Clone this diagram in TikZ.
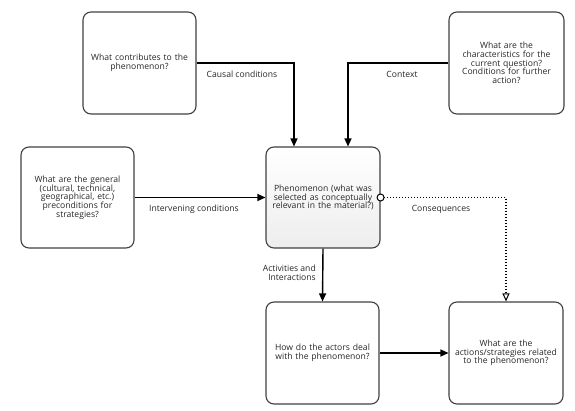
\documentclass[tikz,border=0pt]{standalone}
\usepackage{fontspec}
\setmainfont{Open Sans}
\usetikzlibrary{arrows.meta}
\begin{document}
\begin{tikzpicture}[x=1pt,y=-1pt,
  box/.style={draw=black!75, line width=1.1pt, rounded corners=8pt, align=center,
    text width=104pt, font=\fontsize{8.6}{8.7}\selectfont, text=black!85, inner sep=0pt},
  lbl/.style={font=\fontsize{8.6}{8.9}\selectfont, text=black!85, inner sep=0pt},
  conn/.style={line width=1.4pt, -{Triangle[length=8pt,width=7pt]}},
]
\useasboundingbox (0,0) rectangle (575,411);
\node[box, minimum width=113pt, minimum height=102pt] (b1) at (139.5,63) {What contributes to the\\phenomenon?};
\node[box, minimum width=115pt, minimum height=102pt] (b2) at (506.5,63) {What are the\\characteristics for the\\current question?\\Conditions for further\\action?};
\node[box, minimum width=113pt, minimum height=101pt] (b3) at (77.5,197.5) {What are the general\\(cultural, technical,\\geographical, etc.)\\preconditions for\\strategies?};
\node[box, minimum width=114pt, minimum height=101pt, top color=white, bottom color=black!7] (c) at (323,197.5) {Phenomenon (what was\\selected as conceptually\\relevant in the material?)};
\node[box, minimum width=113pt, minimum height=102pt] (bl) at (322.5,353) {How do the actors deal\\with the phenomenon?};
\node[box, minimum width=114pt, minimum height=102pt] (br) at (506,353) {What are the\\actions/strategies related\\to the phenomenon?};

\draw[conn] (b1.east) -| ([xshift=-29pt]c.north);
\draw[conn] (b2.west) -| ([xshift=25pt]c.north);
\draw[conn] (b3.east) -- (c.west);
\draw[conn] (c.south) -- (bl.north);
\draw[conn] (bl.east) -- (br.west);
\draw[line width=1.4pt, dash pattern=on 1.4pt off 1.6pt,
  {Circle[open,length=8pt,width=8pt,fill=white,line width=1pt,sep=-4pt]}-{Triangle[open,length=8pt,width=7pt,line width=1pt]}]
  (c.east) -| (br.north);

\node[lbl] (l1) at (242,74) {Causal conditions};
\node[lbl] (l2) at (402,74) {Context};
\node[lbl] (l3) at (194,209) {Intervening conditions};
\node[lbl] (l4) at (441,209) {Consequences};
\node[lbl, align=right, anchor=east] (l5) at (316,273) {Activities and\\Interactions};
\end{tikzpicture}
\end{document}
